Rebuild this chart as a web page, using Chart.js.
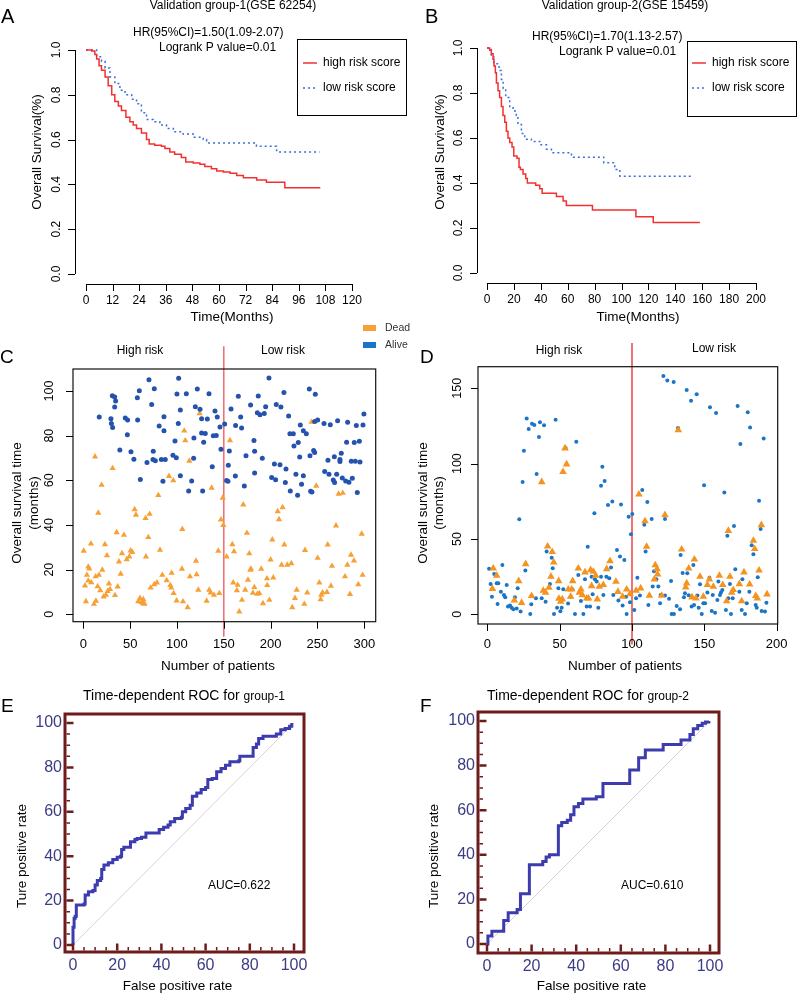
<!DOCTYPE html>
<html><head><meta charset="utf-8">
<script src="https://cdn.jsdelivr.net/npm/chart.js@4/dist/chart.umd.min.js"></script>
<style>
html,body{margin:0;padding:0;background:#fff;}
#wrap{position:relative;width:797px;height:994px;overflow:hidden;background:#fff;}
canvas{position:absolute;left:0;top:0;}
</style></head><body><div id="wrap">
<canvas id="cA" width="797" height="994"></canvas>
<canvas id="cB" width="797" height="994"></canvas>
<canvas id="cC" width="797" height="994"></canvas>
<canvas id="cD" width="797" height="994"></canvas>
<canvas id="cE" width="797" height="994"></canvas>
<canvas id="cF" width="797" height="994"></canvas>
</div>
<script>
// ---------------- DATA ----------------
// Panel A: Kaplan-Meier, validation group-1 (GSE 62254)
const kmAHighT = [0,2.6,4,4.8,5.9,7,8.6,10,11.6,13,14.6,16,18,19.8,21.3,22.8,25,27.3,28.5,31,34,35.6,37.8,40,43,45,48.4,51.4,53.6,56.6,59,62,65,68,71,77,81.4,89.7,105.7];
const kmAHighS = [1,0.995,0.98,0.96,0.93,0.91,0.88,0.84,0.80,0.77,0.75,0.73,0.70,0.68,0.665,0.65,0.63,0.60,0.58,0.575,0.57,0.56,0.545,0.535,0.52,0.50,0.495,0.49,0.48,0.47,0.46,0.455,0.45,0.44,0.43,0.42,0.41,0.385,0.385];
const kmALowT = [0,4.8,7,8.6,10.8,13,15.3,17.6,20.6,22.8,25,27.3,30.3,33.3,36.3,39.4,43.8,48.4,52.9,54.4,76.9,86,105.4];
const kmALowS = [1,0.97,0.95,0.92,0.88,0.85,0.82,0.80,0.78,0.76,0.72,0.69,0.68,0.665,0.65,0.635,0.625,0.61,0.60,0.585,0.57,0.545,0.545];
const kmAXTicks = [0,12,24,36,48,60,72,84,96,108,120];
// Panel B: Kaplan-Meier, validation group-2 (GSE 15459)
const kmBHighT = [0,2,3.2,4.5,5.2,6.2,7,8.2,9.4,10.7,11.9,13.2,14.4,15.6,16.9,18.6,19.9,22.3,23.8,24.8,26.8,28.8,30,36.2,39.2,41,51.6,56.6,59,78.4,110.7,123.6,158.3];
const kmBHighS = [1,0.99,0.975,0.95,0.92,0.89,0.845,0.81,0.78,0.74,0.70,0.67,0.63,0.60,0.58,0.56,0.52,0.51,0.47,0.46,0.44,0.42,0.40,0.39,0.375,0.355,0.34,0.32,0.30,0.28,0.25,0.225,0.225];
const kmBLowT = [0,3.2,5,9,10.7,12,13.9,16.9,19.4,21.8,23,25.6,28,33,39.2,44.2,47.9,62.8,86.8,95,98.8,153.3];
const kmBLowS = [1,0.96,0.93,0.90,0.86,0.82,0.78,0.74,0.72,0.70,0.66,0.62,0.595,0.585,0.57,0.55,0.535,0.515,0.49,0.46,0.43,0.43];
const kmBXTicks = [0,20,40,60,80,100,120,140,160,180,200];
const kmYTicks = [0,0.2,0.4,0.6,0.8,1.0];
const kmYLabels = ['0.0','0.2','0.4','0.6','0.8','1.0'];

// Panel C: survival status, group-1 [patient index, months]
const cSplit = 150;
const cAlive = [[17,88.4],[29.5,87.6],[30,85.4],[31,97.9],[33.5,97.3],[33.5,92.8],[34.5,95.5],[31.3,83.7],[44.8,87.9],[47.3,87],[47,80.4],[39,73.6],[50.9,72.8],[54,69.4],[57.7,97],[59.8,100.1],[58,87],[60.9,60.4],[70.1,105],[75.8,101],[73,94],[74.7,73],[74.4,69.3],[76.9,68.8],[68,68],[81,84.3],[83.3,69.3],[86.1,88.5],[86.1,82.2],[85,59.6],[87.5,69.3],[95.7,71.2],[97.9,77.6],[99.3,70.1],[100,98.7],[101.8,105.7],[101.4,85.5],[103.6,91.5],[103.6,62.1],[110,98.8],[112.5,55.2],[115.7,59.7],[118.1,79],[117.8,69.9],[119.6,93],[121.7,100.9],[124.6,91.8],[126.3,87.6],[126.3,81.2],[127.4,55.2],[128.5,77],[130.2,81],[132.4,87.5],[134.2,98.8],[137.7,66.1],[138.8,80],[140.6,91],[142,80.1],[143,88.4],[145.9,83.9],[147,73.9],[150.9,85.2],
[153,59.9],[154.4,59.6],[154.8,66.7],[155.9,73.1],[157.7,91.9],[162.6,84.5],[162.3,61.9],[165.5,97.6],[168,88.4],[169,83.4],[171.9,57.5],[173.7,71],[178.6,93.7],[182.2,77.8],[182.9,73],[182.9,63.3],[186.8,97.8],[185.8,90.3],[188.6,89.4],[193.2,89.9],[191.1,69.9],[194.7,93],[198.2,105.8],[201.1,61.3],[204,67.3],[206,94],[205.3,60.3],[210,67],[211,92.8],[214.2,99.3],[216.4,65.1],[215.7,59],[219.2,88.8],[220.6,80.9],[224.2,80.9],[221,55.2],[224.9,75.4],[227,62.7],[229.5,76.9],[228.8,53.3],[231,70.4],[231.7,84.8],[233,58.2],[234.9,82.2],[234.9,62.1],[238.1,80.9],[241.3,100.9],[242,71],[242.7,55.1],[244.1,54.8],[245.9,73.3],[247,72.5],[247,86.3],[247.7,98.5],[250.2,87],[257,85.5],[257.7,64],[261.2,69],[262.3,62.7],[263.7,84.9],[266.9,60.1],[268.3,59],[268,70.6],[271.5,86.7],[270.5,62.7],[274,69.3],[275.4,72.1],[274,68.4],[276.5,61],[281.1,77],[282.2,86],[280.1,59.7],[283.6,59.1],[287.2,60.9],[286.1,68.5],[290.4,68.5],[289.3,76.9],[291.5,84.6],[292.5,54.5],[294.7,77.5],[295.4,68.2],[298.6,84.8],[299.6,89.7]];
const cDead = [[0.4,28.4],[1.8,12.8],[2.8,5.8],[3.9,17.6],[5.3,21.3],[6.4,20.4],[5.3,15],[8.5,14.3],[8.2,31.6],[11.4,4.6],[12.5,70.6],[13.5,6],[13.2,16.9],[15.3,12.5],[16,45.4],[16.7,17.6],[18.1,10.7],[19.6,57.9],[20.3,19.9],[21.7,7.9],[23.1,31.3],[24.2,8.7],[25.3,26.3],[26,10.4],[27.4,13.7],[28.5,11.2],[31.3,65.4],[33.8,8.5],[35.6,36.7],[36.7,12.4],[38.1,23.6],[39.9,18.1],[41.3,27.3],[43.4,35.5],[46.3,24.6],[49.1,25.8],[50.5,28.5],[52.3,27.8],[54.8,47],[56.2,44.5],[58.7,5.8],[60.5,7.2],[62.3,5.4],[63.7,4.9],[64.1,6.7],[65.5,4.6],[66.5,43],[66.9,25.8],[69.4,34.5],[70.8,44.9],[71.9,11.9],[75.8,13.4],[78.6,14.2],[80.1,53.3],[81.9,28.8],[84.3,17.6],[89,15.2],[91.5,61.9],[92.9,13],[93.9,11.9],[94.3,18.5],[96.1,59.9],[96.4,9.4],[99.6,6.1],[105.3,20.3],[105.7,38.1],[106.4,5.7],[107.8,82.2],[108.9,77.8],[111.4,3.1],[113.2,68.7],[113.9,16.9],[120.3,23.9],[121,17.8],[122.8,10.9],[124.2,90],[131.7,6],[134.5,10.9],[135.9,9.7],[137,56.6],[139.5,8.7],[144.1,28.4],[145.2,9.4],[148.8,52.1],[147,42.4],[149.5,39.9],
[153,25.8],[156.6,77.9],[159.1,31.3],[160.9,28.1],[160.1,14.2],[164,10.7],[164.8,13.1],[166.5,1.2],[169.4,6.4],[170.8,49.1],[172.9,10.9],[174.7,36.4],[175.8,15.4],[177.2,27.2],[178.3,19.9],[179,20.4],[181.1,9.6],[182.6,12.1],[185.8,9.1],[187.9,9.4],[190,20.3],[191.8,4.9],[196.1,16],[196.4,13],[198.6,6.4],[200,24.5],[201.8,33.4],[202.8,16.4],[207.5,46.1],[208.9,42.5],[212.8,47.9],[211.7,22.1],[214.6,31.2],[217.8,22.1],[222.1,22.8],[223.1,3.1],[226,7.2],[227.8,10.9],[236.7,28.7],[236,4.6],[239.1,9.7],[243.7,86.1],[248.7,57.5],[250.2,25.2],[252,14.2],[253.4,6.7],[254.1,8.7],[255.5,9.7],[260.1,9.9],[260.9,31.2],[264.4,12.7],[265.5,21.6],[269.8,39.7],[272.6,53.9],[277,54.3],[279.4,16.9],[281.9,22.1],[284.7,9],[285.8,26.6],[289,24],[293.6,13.4],[297.2,36],[298.2,17.6]];
const cXTicks = [0,50,100,150,200,250,300];
const cYTicks = [0,20,40,60,80,100];

// Panel D: survival status, group-2 [patient index, months]
const dSplit = 100;
const dAlive = [[1.2,30.3],[2.3,20.1],[3.2,11.7],[4.8,26.8],[6.5,20.6],[7.6,20.6],[7.1,6.9],[9.4,15],[10.4,32.7],[11.5,12.8],[12.4,11.3],[13.4,19.5],[14.3,5.1],[15.7,5.8],[16.8,4.4],[18,3.3],[19.1,11.3],[20.3,3.8],[21,17.3],[22.1,63.1],[23,1.8],[24.4,87.8],[25.3,108.6],[26.3,29],[27.2,129.9],[28.6,123],[29.7,0.2],[30.9,126.5],[30.4,6.6],[32.5,125.7],[33.6,10.6],[34.1,93.1],[35.7,117.7],[36.4,127.4],[39.2,125.4],[37.6,10.6],[40.3,8.4],[41,41.6],[43.3,20.1],[44.5,37.6],[45.2,30.5],[46.1,0.2],[47.2,129.2],[48.2,4.4],[49.1,17.3],[50.5,2],[51.4,4.4],[52.5,16.6],[54.1,110.4],[55.8,7.1],[57.6,11.7],[58.8,16.6],[60.6,0.2],[61.5,114.6],[62.9,26.1],[64.7,8.8],[66.4,0.2],[67.5,23.2],[68.7,5.1],[69.4,44.9],[71,5.1],[72.1,25],[74,67],[72.8,13.3],[74.4,23.2],[75.6,21.7],[76.7,4.4],[78.6,85.4],[79.5,98],[78.6,25],[80.2,12.8],[81.1,88.5],[82.3,25],[83.4,72.6],[84.3,23.9],[85.5,31],[86.4,74.8],[87.1,12.8],[89.6,42.7],[90.6,9.1],[91.7,38.3],[92.4,72.8],[93.5,5.8],[94.7,36.1],[95.9,11.7],[96.3,0.2],[97.7,64.8],[98.6,8],[99.3,53.1],[100.2,66.6],[101.6,2.9],[102.8,10.6],[103.7,24.3],[105.5,12.4],[107.1,82.5],[108.5,59.5],[109.4,41.6],[110.6,74.6],[111.3,6.2],[113.6,63.3],[114.3,18.4],[115.2,28.5],[116.8,23.2],[118.2,18.4],[119.4,7.3],[119.8,12.8],[121.7,158.2],[122.8,12.4],[122.8,63.3],[124.4,155.1],[125.6,10.4],[127,22.1],[127.4,0.2],[128.8,154.2],[129,0.2],[130.9,5.5],[131.8,123.7],[133.2,3.3],[133.6,39.4],[135,27.4],[135.9,11.3],[136.6,13.9],[137.8,148.9],[138.2,27.2],[139.2,12.6],[140.8,141.8],[141.2,5.1],[142.4,32.7],[142.9,6.2],[144.7,146],[145.2,12.4],[146.1,4.4],[147,19.9],[148.2,0.2],[149.8,85.6],[149.3,7.3],[150.5,7.3],[152.1,14.4],[153.5,24.3],[153.9,137.4],[155.1,2.2],[155.8,12.8],[157.4,1.1],[158.1,133.6],[159,9.5],[159.7,21.7],[160.8,12.8],[161.5,14.4],[162.4,16.2],[163.8,80.8],[164.9,2.9],[165.9,52.2],[166.6,10.6],[167.7,20.1],[168.4,0.2],[169.6,10.6],[170.5,58.6],[171.4,29.9],[173,138.3],[174.2,15],[174.9,113.1],[175.8,2.9],[176.3,23.2],[178.1,0.2],[179.3,7.3],[180,134.1],[181.1,15],[181.6,123.9],[182.7,45.8],[183.9,39.8],[185.5,6.2],[186.2,4.4],[186.9,24.6],[187.8,75.4],[188.9,56.6],[189.6,2.2],[191,116.6],[191.9,1.8],[192.9,7.7]];
const dDead = [[4.1,30.5],[3.5,17],[6.5,25.7],[18.7,9.3],[21.7,22.1],[23.7,7.7],[26.5,33.4],[30.6,12.2],[37.6,87.8],[38.7,15.7],[40.3,14.4],[41.7,45.1],[42.6,17.7],[44,25],[44.9,41.4],[45.9,34.5],[49.3,22.1],[49.5,10.4],[50.7,8.4],[52.3,94.5],[51.8,10],[53.7,110.2],[54.8,99.6],[56,16.6],[57.6,11.7],[58.3,16.6],[59,22.1],[62.9,30.5],[63.6,14.4],[64.7,16.6],[65.7,12.8],[67.5,27.9],[68.7,10.6],[70,10.6],[71.4,29.4],[72.1,18.8],[73.3,28.3],[74.9,25.7],[76,10],[77.4,18.4],[80.2,19.5],[82.5,30.1],[84.8,35.4],[88.9,21.7],[90.3,15],[93.5,11.7],[96.3,16.6],[98.6,13.5],[102.8,15.7],[104.8,79.6],[106,17.3],[109,61.9],[110.1,44.9],[112,12.4],[115.4,23.2],[116.1,32.7],[117.3,30.1],[117.7,26.5],[120.5,12.4],[122.8,65.9],[132,122.3],[134.3,43.1],[137.1,17.9],[137.8,20.6],[139.2,30.5],[143.1,36.5],[141.5,11.3],[144.2,10.6],[147,25],[149.3,11.7],[152.1,19.5],[153.5,23.2],[156.2,18.4],[160.4,25.7],[162.7,19.5],[165.4,8.8],[166.6,55.5],[167.7,25],[168.9,14.4],[170,16.2],[174.2,20.1],[177.4,27.9],[175.8,8.8],[181.3,19.9],[183.9,48.9],[184.8,43.4],[185.5,12.2],[186.6,10.6],[187.8,29.2],[189.4,59.3],[193.3,13.3]];
const dXTicks = [0,50,100,150,200];
const dYTicks = [0,50,100,150];

// Panels E/F: time-dependent ROC (false positive %, true positive %)
const rocEFpr = [0,0,0.5,1,1.5,5,5.5,7,9,10,11,12.5,13,14,16,18,20,21.5,22,23,26,28,29,31,33,39,41,43,44,46,49,49.5,51,53,54,56,58,60,61,63,65,67,69,71,75,75.5,81.5,83,84,86,92,94,96,98,99];
const rocETpr = [0,8,12,13,18,18.5,22.5,24,24.5,27,29,30,34,36,37,38.5,39.5,40,43,44,46.5,47.5,48,48.5,50.5,52,53,54,55.5,57,57.5,60,61.5,63,67,68.5,70,71,74.5,75,78,79.5,81,82.5,83,85,89,90.5,93,94,95,97,97.5,98.5,100];
const rocFFpr = [0,0.4,2.2,7.5,9.5,13.5,15,19,25,26.5,28,32,33.5,36,37.5,39,41,43,49,52,64,68,71,79,87,91,92.5,94.5,96.5,98,99.5];
const rocFTpr = [0,3.6,5.7,10.5,14,15.5,22.5,35.5,37,39,40,53,54.5,55.5,58,61.5,63,65,66,72,78,83.5,87,89.5,91.5,94,96.5,98,99,99.5,100];
const rocTicks = [0,20,40,60,80,100];
const rocMinor = [5,10,15,25,30,35,45,50,55,65,70,75,85,90,95];

// ---------------- HELPERS ----------------
const W = 797, H = 994;
const FONT = '"Liberation Sans", Arial, Helvetica, sans-serif';
function lin(p0, v0, p1, v1) { const k = (v1 - v0) / (p1 - p0); return p => v0 + (p - p0) * k; }
function txt(ctx, s, x, y, o) {
  ctx.save();
  ctx.font = (o.weight || 'normal') + ' ' + o.size + 'px ' + FONT;
  ctx.fillStyle = o.color || '#000';
  ctx.textAlign = o.align || 'center';
  ctx.textBaseline = o.base || 'middle';
  if (o.rot) { ctx.translate(x, y); ctx.rotate(o.rot); ctx.fillText(s, 0, 0); }
  else ctx.fillText(s, x, y);
  ctx.restore();
}
function build(id, box, xmap, ymap, datasets, deco) {
  const fx = lin(...xmap), fy = lin(...ymap);
  return new Chart(document.getElementById(id), {
    type: 'scatter',
    data: { datasets },
    options: {
      responsive: false, animation: false, events: [], devicePixelRatio: 1,
      layout: { padding: { left: box[0], top: box[1], right: W - box[2], bottom: H - box[3] } },
      scales: {
        x: { type: 'linear', display: false, min: fx(box[0]), max: fx(box[2]) },
        y: { type: 'linear', display: false, min: fy(box[3]), max: fy(box[1]) }
      },
      plugins: { legend: { display: false }, tooltip: { enabled: false }, title: { display: false } }
    },
    plugins: [{ id: 'deco' + id, afterDraw: c => deco(c.ctx, c.scales.x, c.scales.y, c.chartArea) }]
  });
}
function pts(a) { return a.map(p => ({ x: p[0], y: p[1] })); }
function zip(xs, ys) { return xs.map((x, i) => ({ x, y: ys[i] })); }
function stepDs(xs, ys, color, dash, width) {
  return { data: zip(xs, ys), showLine: true, stepped: true, borderColor: color, borderWidth: width || 1.5,
    borderDash: dash || [], pointRadius: 0, clip: false, fill: false };
}
function scatDs(a, style, r, color) {
  return { data: pts(a), showLine: false, pointStyle: style, pointRadius: r, pointBackgroundColor: color,
    pointBorderWidth: 0, pointBorderColor: color, clip: false };
}
function vline(x, y0, y1, color, w) {
  return { data: [{ x, y: y0 }, { x, y: y1 }], showLine: true, borderColor: color, borderWidth: w, pointRadius: 0, clip: false };
}
function rBottom(ctx, xs, ticks, labels, y, len, labY, size, line) {
  ctx.save(); ctx.strokeStyle = '#000'; ctx.lineWidth = 1; ctx.beginPath();
  if (line) { ctx.moveTo(xs.getPixelForValue(ticks[0]), y + 0.5); ctx.lineTo(xs.getPixelForValue(ticks[ticks.length - 1]), y + 0.5); }
  ticks.forEach(t => { const p = Math.round(xs.getPixelForValue(t)) + 0.5; ctx.moveTo(p, y); ctx.lineTo(p, y + len); });
  ctx.stroke(); ctx.restore();
  ticks.forEach((t, i) => txt(ctx, labels[i], xs.getPixelForValue(t), labY, { size, base: 'alphabetic' }));
}
function rLeft(ctx, ys, ticks, labels, x, len, labX, size, line) {
  ctx.save(); ctx.strokeStyle = '#000'; ctx.lineWidth = 1; ctx.beginPath();
  if (line) { ctx.moveTo(x + 0.5, ys.getPixelForValue(ticks[0])); ctx.lineTo(x + 0.5, ys.getPixelForValue(ticks[ticks.length - 1])); }
  ticks.forEach(t => { const p = Math.round(ys.getPixelForValue(t)) + 0.5; ctx.moveTo(x, p); ctx.lineTo(x - len, p); });
  ctx.stroke(); ctx.restore();
  ticks.forEach((t, i) => txt(ctx, labels[i], labX, ys.getPixelForValue(t), { size, rot: -Math.PI / 2 }));
}
function kmLegend(ctx, x0, y0, x1, y1, hi, lo, tx) {
  ctx.save(); ctx.strokeStyle = '#000'; ctx.lineWidth = 1;
  ctx.strokeRect(x0 + 0.5, y0 + 0.5, x1 - x0, y1 - y0);
  ctx.lineWidth = 1.5;
  ctx.strokeStyle = hi; ctx.beginPath(); ctx.moveTo(tx - 20, 63); ctx.lineTo(tx - 6, 63); ctx.stroke();
  ctx.strokeStyle = lo; ctx.setLineDash([2, 3]); ctx.beginPath(); ctx.moveTo(tx - 20, 88); ctx.lineTo(tx - 6, 88); ctx.stroke();
  ctx.restore();
  txt(ctx, 'high risk score', tx, 63, { size: 12, align: 'left' });
  txt(ctx, 'low risk score', tx, 88, { size: 12, align: 'left' });
}
const RED = '#f23030', BLUE = '#3a6fdc';
const fmt = a => a.map(String);

// ---------------- PANEL A ----------------
build('cA', [75, 40, 370, 284], [86, 0, 352, 120], [274, 0, 50, 1],
  [stepDs(kmAHighT, kmAHighS, RED), stepDs(kmALowT, kmALowS, BLUE, [2, 3])],
  (ctx, xs, ys) => {
    rBottom(ctx, xs, kmAXTicks, fmt(kmAXTicks), 284, 7, 304, 12, true);
    rLeft(ctx, ys, kmYTicks, kmYLabels, 75, 7, 57, 12, true);
    txt(ctx, 'A', 1, 23, { size: 20, align: 'left', base: 'alphabetic' });
    txt(ctx, 'Validation group-1(GSE 62254)', 233, 9, { size: 12, base: 'alphabetic' });
    txt(ctx, 'HR(95%CI)=1.50(1.09-2.07)', 133, 36, { size: 12, align: 'left', base: 'alphabetic' });
    txt(ctx, 'Logrank P value=0.01', 159, 51, { size: 12, align: 'left', base: 'alphabetic' });
    txt(ctx, 'Time(Months)', 232, 321, { size: 13.5, base: 'alphabetic' });
    txt(ctx, 'Overall Survival(%)', 37, 152, { size: 13.5, rot: -Math.PI / 2 });
    kmLegend(ctx, 297, 39, 406, 115, RED, BLUE, 323);
  });

// ---------------- PANEL B ----------------
build('cB', [477, 40, 770, 283], [487, 0, 756, 200], [273, 0, 48, 1],
  [stepDs(kmBHighT, kmBHighS, RED), stepDs(kmBLowT, kmBLowS, BLUE, [2, 3])],
  (ctx, xs, ys) => {
    rBottom(ctx, xs, kmBXTicks, fmt(kmBXTicks), 283, 7, 303, 12, true);
    rLeft(ctx, ys, kmYTicks, kmYLabels, 477, 7, 459, 12, true);
    txt(ctx, 'B', 425, 23, { size: 20, align: 'left', base: 'alphabetic' });
    txt(ctx, 'Validation group-2(GSE 15459)', 625, 9, { size: 12, base: 'alphabetic' });
    txt(ctx, 'HR(95%CI)=1.70(1.13-2.57)', 532, 40, { size: 12, align: 'left', base: 'alphabetic' });
    txt(ctx, 'Logrank P value=0.01', 559, 55, { size: 12, align: 'left', base: 'alphabetic' });
    txt(ctx, 'Time(Months)', 638, 321, { size: 13.5, base: 'alphabetic' });
    txt(ctx, 'Overall Survival(%)', 440, 152, { size: 13.5, rot: -Math.PI / 2 });
    kmLegend(ctx, 687, 41, 796, 116, RED, BLUE, 712);
  });

// ---------------- PANEL C ----------------
const C_BLUE = '#2552ad', C_ORANGE = '#f7a035', D_BLUE = '#1a75c6', D_ORANGE = '#f5931f';
build('cC', [73, 369, 375.7, 621.7], [83.3, 0, 364.3, 300], [614.3, 0, 391, 100],
  [scatDs(cAlive, 'circle', 2.5, C_BLUE), scatDs(cDead, 'triangle', 3.6, C_ORANGE), vline(cSplit, -10, 120, '#f06a6a', 1.5)],
  (ctx, xs, ys, a) => {
    ctx.save(); ctx.strokeStyle = '#111'; ctx.lineWidth = 1.2;
    ctx.strokeRect(a.left, a.top, a.right - a.left, a.bottom - a.top); ctx.restore();
    rBottom(ctx, xs, cXTicks, fmt(cXTicks), 621.7, 7, 648, 13, false);
    rLeft(ctx, ys, cYTicks, fmt(cYTicks), 73, 7, 50, 12.5, false);
    txt(ctx, 'C', 0, 363, { size: 19, align: 'left', base: 'alphabetic' });
    txt(ctx, 'High risk', 140, 351, { size: 12 });
    txt(ctx, 'Low risk', 283, 351, { size: 12 });
    txt(ctx, 'Number of patients', 218, 670, { size: 13.5, base: 'alphabetic' });
    txt(ctx, 'Overall survival time', 17, 503, { size: 13.5, rot: -Math.PI / 2 });
    txt(ctx, '(months)', 34, 503, { size: 13.5, rot: -Math.PI / 2 });
    ctx.save();
    ctx.fillStyle = C_ORANGE; ctx.fillRect(363, 325, 13, 6);
    ctx.fillStyle = D_BLUE; ctx.fillRect(363, 342, 13, 6);
    ctx.restore();
    txt(ctx, 'Dead', 385, 328, { size: 10.5, align: 'left', color: '#333' });
    txt(ctx, 'Alive', 385, 345, { size: 10.5, align: 'left', color: '#333' });
  });

// ---------------- PANEL D ----------------
build('cD', [478, 366.7, 777.7, 624], [487.3, 0, 776.7, 200], [614.3, 0, 388.3, 150],
  [scatDs(dDead, 'triangle', 4.4, D_ORANGE), scatDs(dAlive, 'circle', 2.0, D_BLUE), vline(dSplit, -20, 180, '#e81515', 1.2)],
  (ctx, xs, ys, a) => {
    ctx.save(); ctx.strokeStyle = '#111'; ctx.lineWidth = 1.2;
    ctx.strokeRect(a.left, a.top, a.right - a.left, a.bottom - a.top); ctx.restore();
    rBottom(ctx, xs, dXTicks, fmt(dXTicks), 624, 7, 648, 13, false);
    rLeft(ctx, ys, dYTicks, fmt(dYTicks), 478, 7, 458, 12.5, false);
    txt(ctx, 'D', 420, 363, { size: 19, align: 'left', base: 'alphabetic' });
    txt(ctx, 'High risk', 559, 351, { size: 12 });
    txt(ctx, 'Low risk', 714, 349, { size: 12 });
    txt(ctx, 'Number of patients', 625, 670, { size: 13.5, base: 'alphabetic' });
    txt(ctx, 'Overall survival time', 423, 503, { size: 13.5, rot: -Math.PI / 2 });
    txt(ctx, '(months)', 439, 503, { size: 13.5, rot: -Math.PI / 2 });
  });

// ---------------- PANELS E / F ----------------
const FRAME = '#6e1b1b', ROC = '#3c3cae', TICKC = '#3b3b86';
function rocDeco(letter, lx, titleX, grp, auc, aucX, ylabX) {
  return (ctx, xs, ys, a) => {
    ctx.save();
    ctx.strokeStyle = FRAME; ctx.lineWidth = 3;
    ctx.strokeRect(a.left, a.top, a.right - a.left, a.bottom - a.top);
    const L = a.left + 1.5, B = a.bottom - 1.5;
    ctx.lineWidth = 2.5; ctx.beginPath();
    rocTicks.forEach(t => { const py = ys.getPixelForValue(t); ctx.moveTo(L, py); ctx.lineTo(L + 7, py);
      const px = xs.getPixelForValue(t); ctx.moveTo(px, B); ctx.lineTo(px, B - 7); });
    ctx.stroke();
    ctx.lineWidth = 1.5; ctx.beginPath();
    rocMinor.forEach(t => { const py = ys.getPixelForValue(t); ctx.moveTo(L, py); ctx.lineTo(L + 3.5, py);
      const px = xs.getPixelForValue(t); ctx.moveTo(px, B); ctx.lineTo(px, B - 3.5); });
    ctx.stroke(); ctx.restore();
    rocTicks.forEach(t => {
      txt(ctx, String(t), a.left - 3, ys.getPixelForValue(t), { size: 16, align: 'right', color: TICKC });
      txt(ctx, String(t), xs.getPixelForValue(t), a.bottom + 14, { size: 16, color: TICKC });
    });
    txt(ctx, letter, lx, 712, { size: 19, align: 'left', base: 'alphabetic' });
    ctx.save(); ctx.font = '14px ' + FONT; const w = ctx.measureText('Time-dependent ROC for ').width; ctx.restore();
    txt(ctx, 'Time-dependent ROC for ', titleX, 700, { size: 14, align: 'left', base: 'alphabetic' });
    txt(ctx, grp, titleX + w, 700, { size: 12, align: 'left', base: 'alphabetic' });
    txt(ctx, auc, aucX, 886, { size: 12, align: 'left' });
    txt(ctx, 'Ture positive rate', ylabX, 856, { size: 13.5, rot: -Math.PI / 2 });
    txt(ctx, 'False positive rate', (a.left + a.right) / 2 - 7, 990, { size: 13.5, base: 'alphabetic' });
  };
}
build('cE', [65, 714, 304, 952], [73, 0, 294, 100], [945, 0, 723, 100],
  [{ data: zip(rocEFpr, rocETpr), showLine: true, stepped: true, borderColor: ROC, borderWidth: 3, pointRadius: 0, clip: false },
   { data: [{ x: 0, y: 0 }, { x: 100, y: 100 }], showLine: true, borderColor: '#dccfdc', borderWidth: 1, pointRadius: 0 }],
  rocDeco('E', 1, 83, 'group-1', 'AUC=0.622', 208, 22));
build('cF', [478, 712, 719, 953], [487, 0, 710, 100], [944, 0, 721, 100],
  [{ data: zip(rocFFpr, rocFTpr), showLine: true, stepped: true, borderColor: ROC, borderWidth: 3, pointRadius: 0, clip: false },
   { data: [{ x: 0, y: 0 }, { x: 100, y: 100 }], showLine: true, borderColor: '#dccfdc', borderWidth: 1, pointRadius: 0 }],
  rocDeco('F', 420, 487, 'group-2', 'AUC=0.610', 621, 434));
</script>
</body></html>
